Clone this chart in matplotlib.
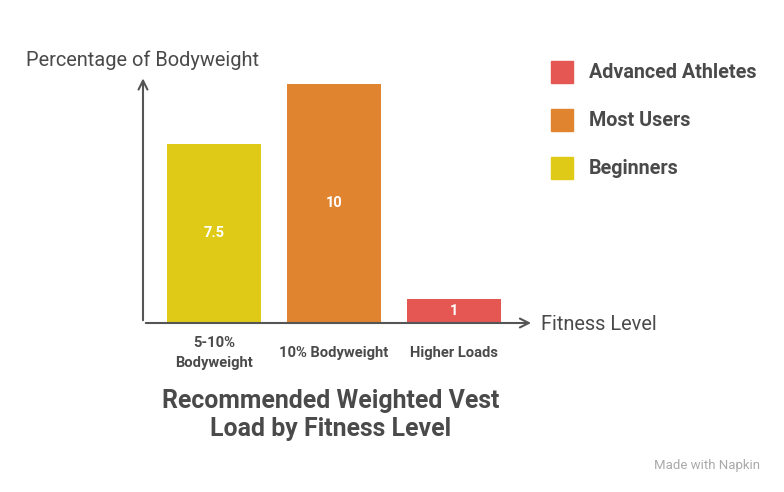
import numpy as np
import matplotlib.pyplot as plt
from matplotlib.patches import Rectangle

plt.rcParams['font.family'] = ['Roboto', 'DejaVu Sans']

# data
categories = ['5-10%\nBodyweight', '10% Bodyweight', 'Higher Loads']
values = [7.5, 10, 1]
value_labels = ['7.5', '10', '1']
groups = ['Beginners', 'Most Users', 'Advanced Athletes']
colors = ['#DFCB17', '#E08430', '#E55753']

text_col = '#4a4a4a'
axis_col = '#555555'

fig = plt.figure(figsize=(7.84, 4.92), dpi=100)
ax = fig.add_axes([143 / 784, 1 - 323 / 492, (530 - 143) / 784, (323 - 78) / 492])

x = np.arange(len(values))
bars = ax.bar(x, values, width=0.78, color=colors)
for b, lab in zip(bars, value_labels):
    ax.text(b.get_x() + b.get_width() / 2, b.get_height() / 2, lab,
            ha='center', va='center', color='white', fontsize=10.5, fontweight='bold')

ax.set_xlim(-0.59, 2.63)
ax.set_ylim(0, 10.25)
for s in ax.spines.values():
    s.set_visible(False)
ax.set_yticks([])
ax.set_xticks(x)
ax.set_xticklabels(categories, fontsize=10.6, fontweight='bold', color=text_col, linespacing=1.55)
for t in ax.get_xticklabels():
    t.set_va('center')
ax.tick_params(axis='x', length=0, pad=21.5)

# axis arrows
ax.annotate('', xy=(1.01, 0), xytext=(0, 0), xycoords='axes fraction',
            arrowprops=dict(arrowstyle='->', color=axis_col, lw=1.5, mutation_scale=16))
ax.annotate('', xy=(0, 1.01), xytext=(0, 0), xycoords='axes fraction',
            arrowprops=dict(arrowstyle='->', color=axis_col, lw=1.5, mutation_scale=16))

fig.text(142 / 784, 1 - 60 / 492, 'Percentage of Bodyweight', ha='center', va='center',
         fontsize=14.4, color=text_col)
fig.text(541 / 784, 1 - 324 / 492, 'Fitness Level', ha='left', va='center',
         fontsize=14.4, color=text_col)

# legend
leg_y = [72, 120, 168]
for (g, c), yy in zip(list(zip(groups, colors))[::-1], leg_y):
    fig.patches.append(Rectangle((551 / 784, 1 - (yy + 11) / 492), 22 / 784, 22 / 492,
                                 transform=fig.transFigure, color=c))
    fig.text(589 / 784, 1 - yy / 492, g, ha='left', va='center', fontsize=14.2,
             fontweight='bold', color=text_col)

fig.text(331 / 784, 1 - 415 / 492, 'Recommended Weighted Vest\nLoad by Fitness Level',
         ha='center', va='center', fontsize=17.9, fontweight='bold', color=text_col,
         linespacing=1.25)

fig.text(760 / 784, 1 - 465 / 492, 'Made with Napkin', ha='right', va='center',
         fontsize=9.5, color='#aaaaaa')

fig.savefig('out.png', dpi=100)
